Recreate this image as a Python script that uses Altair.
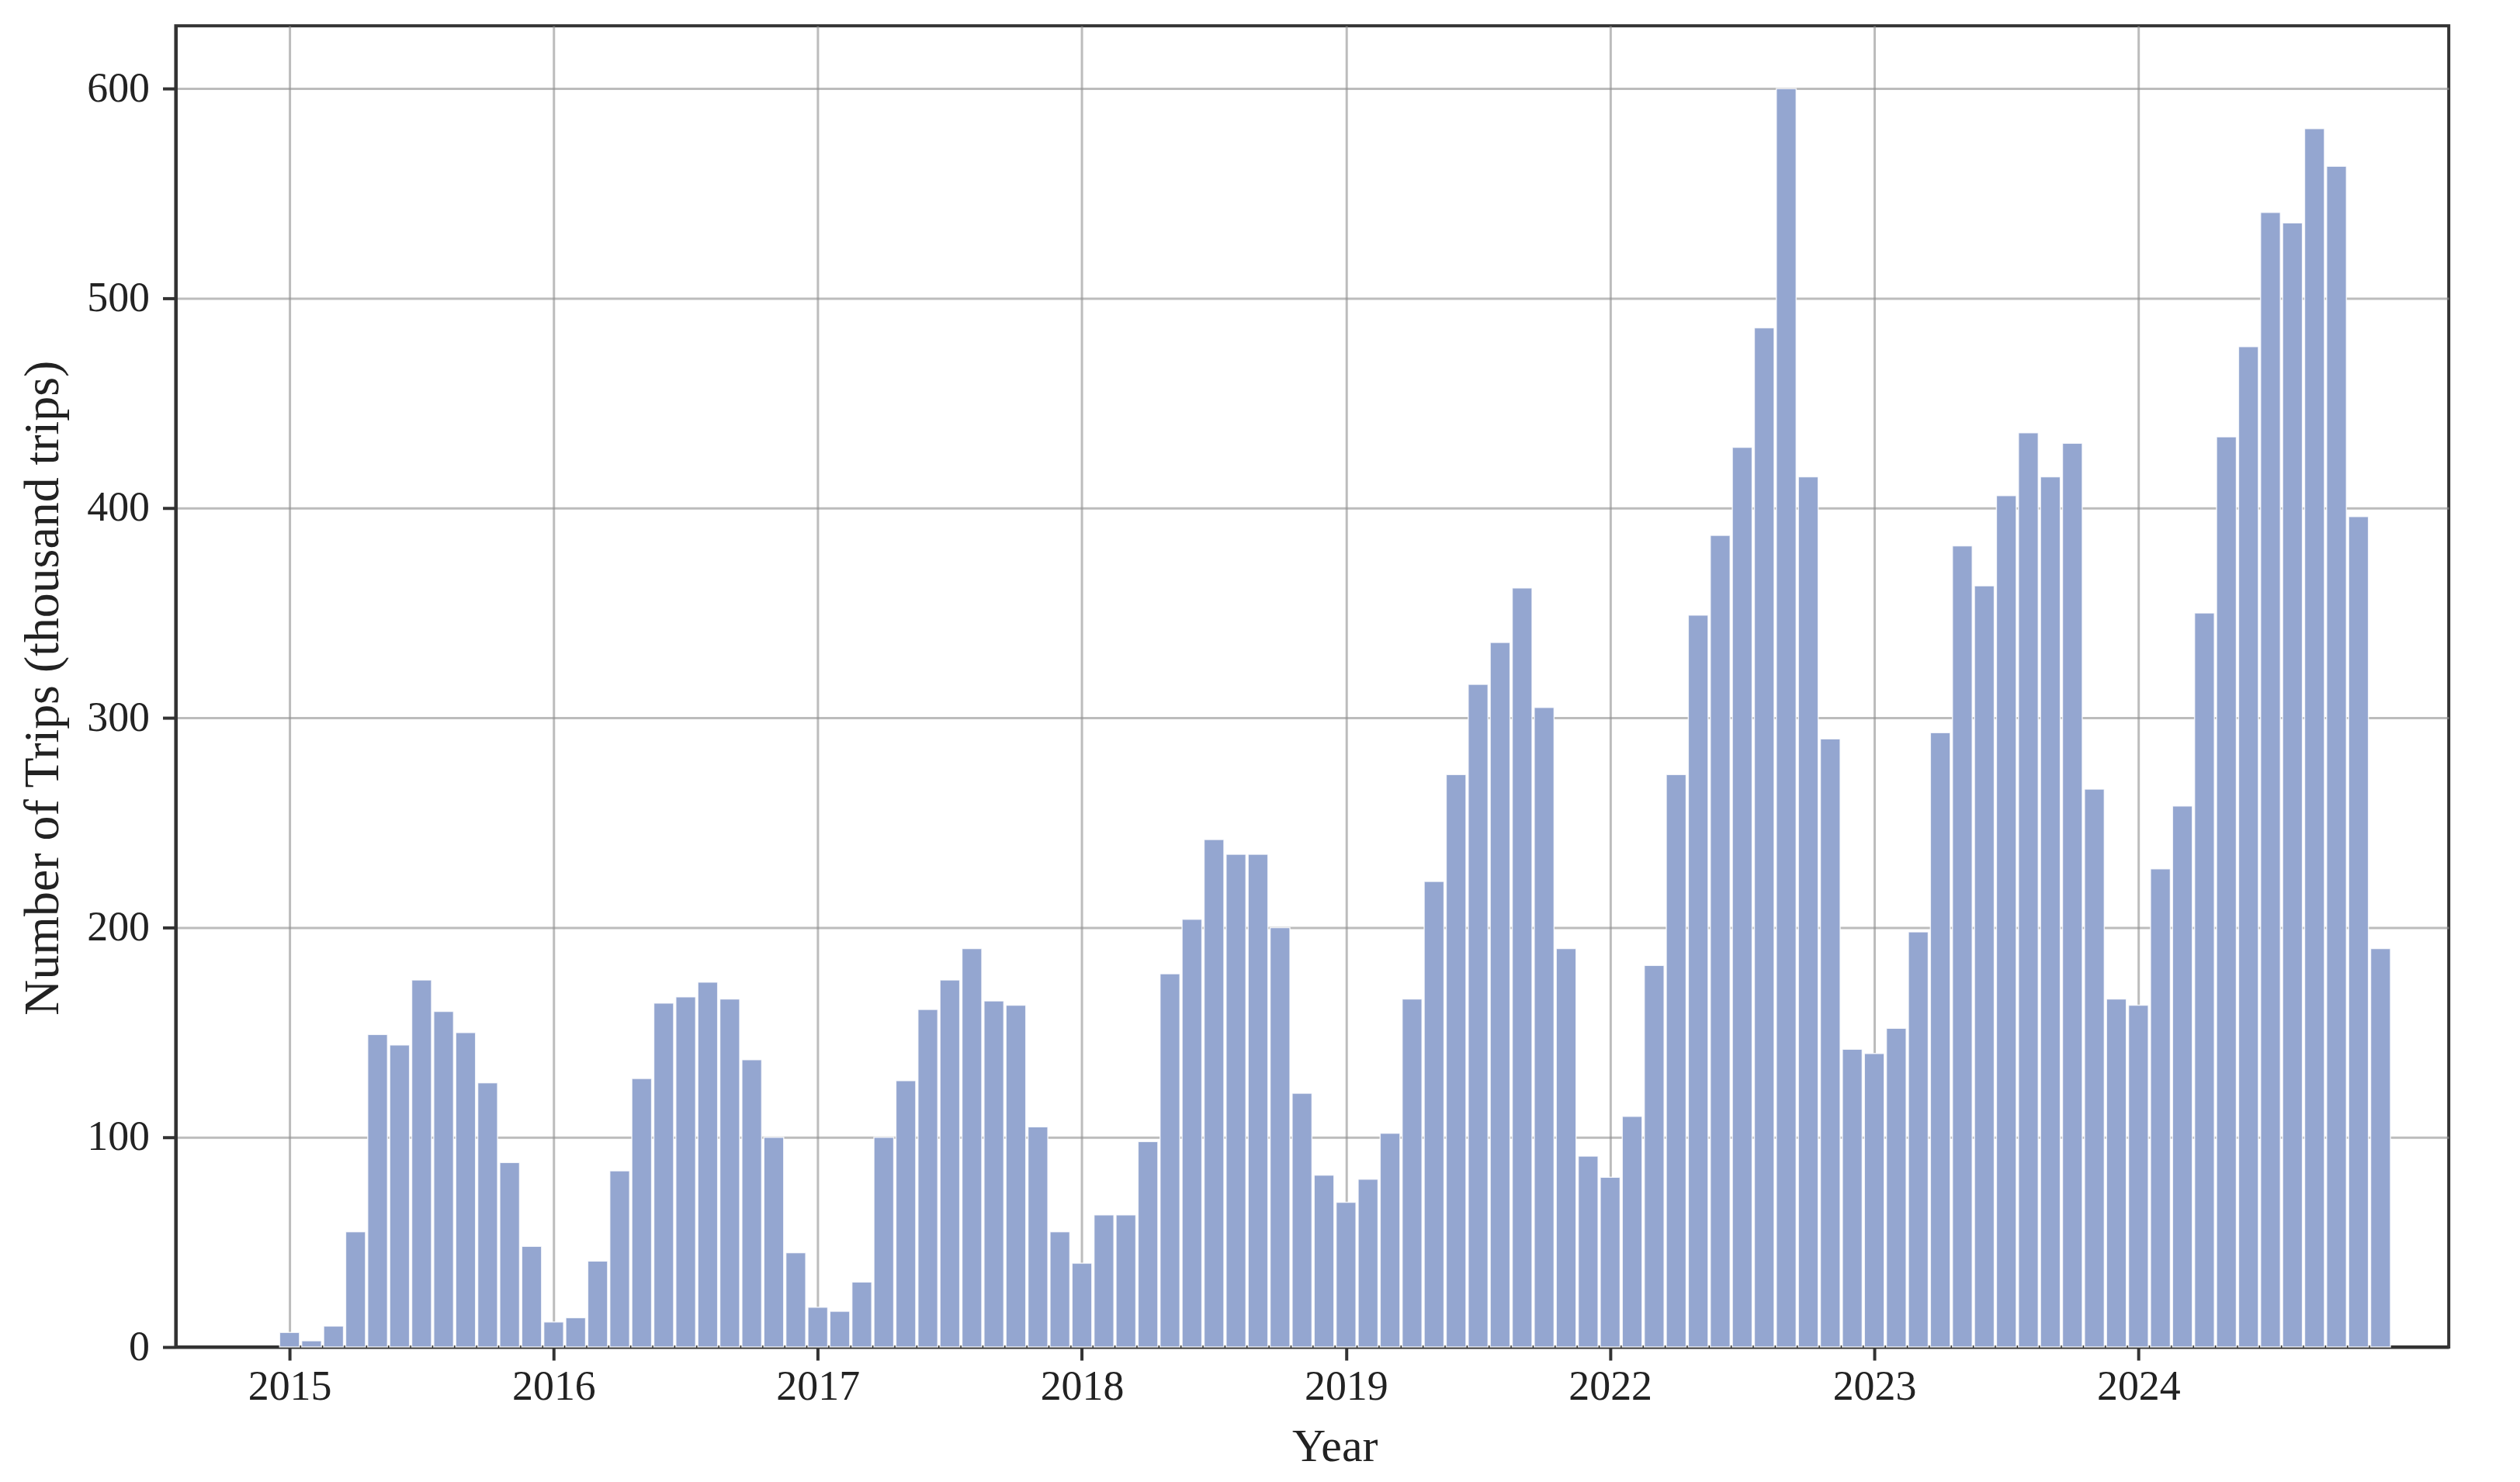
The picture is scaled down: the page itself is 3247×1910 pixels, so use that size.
import altair as alt
import pandas as pd

years = ["2015", "2016", "2017", "2018", "2019", "2022", "2023", "2024"]

trips_2015 = [7, 3, 10, 55, 149, 144, 175, 160, 150, 126, 88, 48]
trips_2016 = [12, 14, 41, 84, 128, 164, 167, 174, 166, 137, 100, 45]
trips_2017 = [19, 17, 31, 100, 127, 161, 175, 190, 165, 163, 105, 55]
trips_2018 = [40, 63, 63, 98, 178, 204, 242, 235, 235, 200, 121, 82]
trips_2019 = [69, 80, 102, 166, 222, 273, 316, 336, 362, 305, 190, 91]
trips_2022 = [81, 110, 182, 273, 349, 387, 429, 486, 600, 415, 290, 142]
trips_2023 = [140, 152, 198, 293, 382, 363, 406, 436, 415, 431, 266, 166]
trips_2024 = [163, 228, 258, 350, 434, 477, 541, 536, 581, 563, 396, 190]

series = [trips_2015, trips_2016, trips_2017, trips_2018,
          trips_2019, trips_2022, trips_2023, trips_2024]

y_ticks = [0, 100, 200, 300, 400, 500, 600]

rows = []
for yi, (yr, vals) in enumerate(zip(years, series)):
    for m, v in enumerate(vals):
        rows.append({"year": yr, "month": m + 1, "idx": yi * 12 + m, "trips": v})
df = pd.DataFrame(rows)

year_ticks = [i * 12 for i in range(len(years))]
label_expr = "[" + ",".join(f"'{y}'" for y in years) + "][round(datum.value / 12)]"

FONT = "Liberation Serif"

bars = (
    alt.Chart(df)
    .transform_calculate(x0="datum.idx - 0.45", x1="datum.idx + 0.45")
    .mark_bar(color="#94a6d0", stroke="#ffffff", strokeWidth=1.5, strokeOpacity=0.8)
    .encode(
        x=alt.X(
            "x0:Q",
            scale=alt.Scale(domain=[-5.17, 98.1], nice=False, zero=False),
            axis=alt.Axis(
                values=year_ticks,
                labelExpr=label_expr,
                title="Year",
                titleX=1497,
                titleY=147,
                titleAlign="center",
                titleBaseline="alphabetic",
                labelPadding=8,
                labelBaseline="top",
            ),
        ),
        x2="x1:Q",
        y=alt.Y(
            "trips:Q",
            scale=alt.Scale(domain=[0, 630], nice=False),
            axis=alt.Axis(
                values=y_ticks,
                format="d",
                title="Number of Trips (thousand trips)",
                titleX=-152,
                titleY=855,
                titleAngle=270,
                titleAlign="center",
                titleBaseline="alphabetic",
                titleFontSize=64,
                labelPadding=17,
                labelBaseline="middle",
            ),
        ),
        y2=alt.datum(0),
        tooltip=["year:N", "month:Q", "trips:Q"],
    )
)

chart = (
    bars.properties(
        width=2936,
        height=1707,
        padding={"left": 219, "top": 23, "right": 84, "bottom": 164},
        autosize=alt.AutoSizeParams(type="none"),
        background="white",
    )
    .configure_view(stroke="#333333", strokeWidth=4)
    .configure_axis(
        labelFont=FONT,
        labelFontSize=54,
        labelColor="#222222",
        titleFont=FONT,
        titleFontSize=60,
        titleFontWeight="normal",
        titleColor="#222222",
        domainColor="#333333",
        domainWidth=4,
        tickColor="#333333",
        tickWidth=4,
        tickSize=17,
        grid=True,
        gridColor="#909090",
        gridOpacity=0.6,
        gridWidth=3,
        labelFlush=False,
        labelOverlap=False,
        zindex=1,
    )
)

chart.save("out.html", embed_options={"renderer": "svg", "actions": False})
